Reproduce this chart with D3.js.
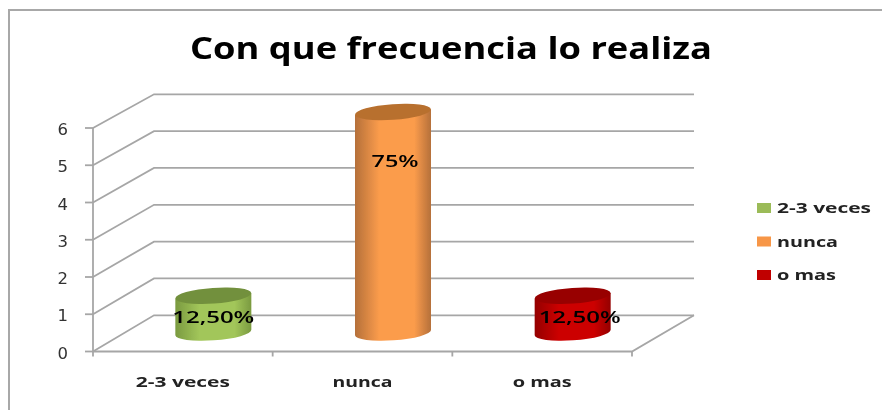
<!DOCTYPE html>
<html><head><meta charset="utf-8">
<script src="https://cdn.jsdelivr.net/npm/d3@7"></script>
<style>html,body{margin:0;padding:0;background:#fff;overflow:hidden}svg{display:block}</style>
</head><body>
<svg id="c" width="882" height="410"></svg>
<script>
const categories = ["2-3 veces", "nunca", "o mas"];
const values = [1, 6, 1];
const dataLabels = ["12,50%", "75%", "12,50%"];
const yTicks = [0, 1, 2, 3, 4, 5, 6];
const titleText = "Con que frecuencia lo realiza";
const barColors = ["#9bbb59", "#f79646", "#c00000"];
const barEdge = ["#7a9a40", "#b5703a", "#940000"];
const barMid = ["#a2c65a", "#fb9c4c", "#cc0000"];
const barTop = ["#72903c", "#b8702f", "#980000"];

const svg = d3.select("#c");
const defs = svg.append("defs");
defs.append("filter").attr("id", "soft").attr("filterUnits", "userSpaceOnUse")
  .attr("x", 0).attr("y", 0).attr("width", 882).attr("height", 410)
  .append("feGaussianBlur").attr("stdDeviation", 0.5);
const root = svg.append("g").attr("filter", "url(#soft)");

const x = d3.scaleBand().domain(categories).range([93, 632]);
const yFront = d3.scaleLinear().domain([0, 6]).range([351.5, 128]);
const yBack = d3.scaleLinear().domain([0, 6]).range([315.3, 94.3]);
const yBar = d3.scaleLinear().domain([0, 6]).range([332.5, 112]);
const backX = [154, 694];
const depthX = 30.5;
const gridColor = "#a6a6a6";
const font = "'Open Sans', sans-serif";

// chart frame (runs off the right and bottom of the picture)
root.append("path").attr("d", d3.line()([[9, 420], [9, 10], [890, 10]]))
  .attr("fill", "none").attr("stroke", "#a8a8a8").attr("stroke-width", 2);

// title
function fitText(sel, len) { return sel.attr("textLength", len).attr("lengthAdjust", "spacingAndGlyphs"); }
fitText(root.append("text").attr("x", 190).attr("y", 58.5).attr("font-family", font).attr("font-weight", 700)
  .attr("font-size", 31).attr("fill", "#000").text(titleText), 522);

// gridlines with side wall
const grid = root.append("g").attr("fill", "none").attr("stroke", gridColor).attr("stroke-width", 1.8);
grid.selectAll("path.gl").data(yTicks).join("path").attr("class", "gl")
  .attr("d", d => d3.line()([[backX[0] - 61, yFront(d)], [backX[0], yBack(d)], [backX[1], yBack(d)]]));

// floor and axes
grid.append("path").attr("d", d3.line()([[93, yFront(0)], [632, yFront(0)], [backX[1], yBack(0)]]));
grid.append("path").attr("d", d3.line()([[93, yFront(0)], [93, yFront(6)]]));
grid.selectAll("line.yt").data(yTicks).join("line").attr("class", "yt")
  .attr("x1", 85).attr("x2", 93).attr("y1", d => yFront(d)).attr("y2", d => yFront(d));
grid.selectAll("line.xt").data([...categories.map(c => x(c)), x.range()[1]]).join("line").attr("class", "xt")
  .attr("x1", d => d).attr("x2", d => d).attr("y1", yFront(0)).attr("y2", yFront(0) + 5);

// y tick labels
root.selectAll("text.yl").data(yTicks).join("text").attr("class", "yl")
  .attr("x", 68).attr("y", d => yFront(d) + 7).attr("text-anchor", "end")
  .attr("font-family", "'DejaVu Sans', sans-serif").attr("font-size", 16.5).attr("fill", "#333").text(d => d);

// category labels
root.selectAll("text.cl").data(categories).join("text").attr("class", "cl")
  .attr("x", d => x(d) + x.bandwidth() / 2).attr("y", 387).attr("text-anchor", "middle")
  .attr("font-family", font).attr("font-weight", 700).attr("font-size", 15).attr("fill", "#222")
  .each(function (d, i) { fitText(d3.select(this), [94, 60, 59][i]); })
  .text(d => d);

// cylinders
const rx = 38, ry = 7.8, tilt = -4;
values.forEach((v, i) => {
  const id = "g" + i;
  const g = defs.append("linearGradient").attr("id", id);
  g.append("stop").attr("offset", "0%").attr("stop-color", barEdge[i]);
  g.append("stop").attr("offset", "32%").attr("stop-color", barMid[i]);
  g.append("stop").attr("offset", "78%").attr("stop-color", barMid[i]);
  g.append("stop").attr("offset", "100%").attr("stop-color", barEdge[i]);
  const cx = x(categories[i]) + x.bandwidth() / 2 + depthX;
  const t = Math.tan(tilt * Math.PI / 180) * rx;
  const y0 = yBar(0), y1 = yBar(v);
  const body = `M${cx - rx},${y1 - t} L${cx - rx},${y0 - t} A${rx},${ry} ${tilt} 0 0 ${cx + rx},${y0 + t} L${cx + rx},${y1 + t} Z`;
  root.append("path").attr("d", body).attr("fill", `url(#${id})`);
  root.append("ellipse").attr("cx", cx).attr("cy", y1).attr("rx", rx).attr("ry", ry)
    .attr("transform", `rotate(${tilt} ${cx} ${y1})`).attr("fill", barTop[i]);
});

// data labels
root.selectAll("text.dl").data(categories).join("text").attr("class", "dl")
  .attr("x", (d, i) => x(d) + x.bandwidth() / 2 + depthX + [0, 2, 7][i])
  .attr("y", (d, i) => i === 1 ? 167 : 323).attr("text-anchor", "middle")
  .attr("font-family", font).attr("font-weight", 600).attr("font-size", 17).attr("fill", "#000")
  .each(function (d, i) { fitText(d3.select(this), [82, 47, 82][i]); })
  .text((d, i) => dataLabels[i]);

// legend
const legY = d3.scalePoint().domain(categories).range([208, 275]);
const leg = root.selectAll("g.leg").data(categories).join("g").attr("class", "leg")
  .attr("transform", d => `translate(757,${legY(d)})`);
leg.append("rect").attr("y", -5).attr("width", 14).attr("height", 10).attr("fill", (d, i) => barColors[i]);
leg.append("text").attr("x", 20).attr("y", 5).attr("font-family", font).attr("font-weight", 700)
  .attr("font-size", 15).attr("fill", "#222")
  .each(function (d, i) { fitText(d3.select(this), [94, 61, 59][i]); })
  .text(d => d);
</script>
</body></html>
